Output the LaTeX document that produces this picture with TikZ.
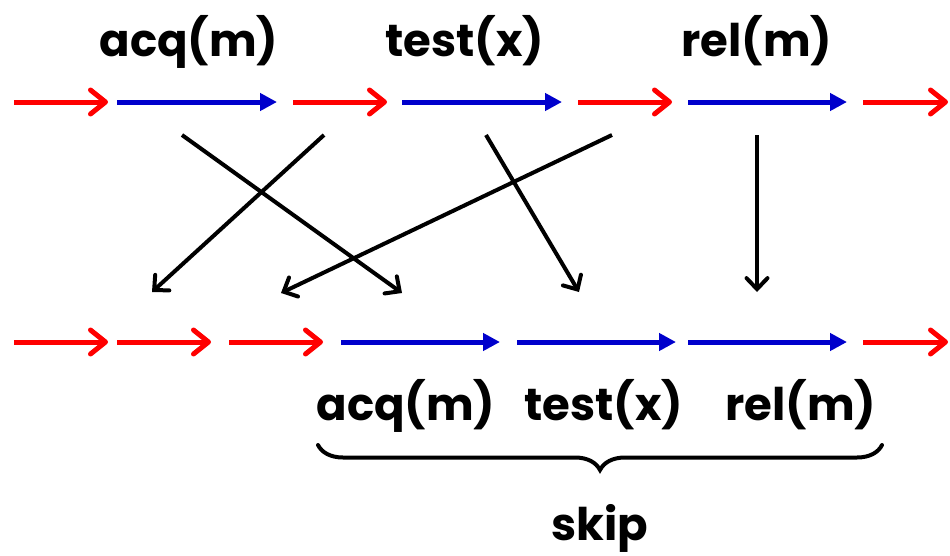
\documentclass[tikz,border=0pt]{standalone}
\usepackage{fontspec}
\setmainfont{Poppins}
\usetikzlibrary{arrows.meta,decorations.pathreplacing}
\definecolor{myred}{RGB}{255,0,0}
\definecolor{myblue}{RGB}{0,0,204}
\tikzset{
  redarr/.style={draw=myred,line width=5pt,-{Straight Barb[length=15pt,width=24pt,line width=5pt,line cap=round,line join=round]}},
  bluearr/.style={draw=myblue,line width=5pt,-{Triangle[length=17pt,width=17pt]}},
  blackarr/.style={draw=black,line width=4pt,-{Straight Barb[length=11pt,width=21pt,line width=4pt,line cap=round]}},
  lbl/.style={font=\bfseries\fontsize{45}{48}\selectfont,inner sep=0pt,anchor=base},
}
\begin{document}
\begin{tikzpicture}[x=1pt,y=-1pt]
\useasboundingbox (0,0) rectangle (950,555);
% top row
\coordinate (t1a) at (14,102); \coordinate (t1b) at (108,102);
\coordinate (t2a) at (117,102); \coordinate (t2b) at (277,102);
\coordinate (t3a) at (293,102); \coordinate (t3b) at (387,102);
\coordinate (t4a) at (402,102); \coordinate (t4b) at (562,102);
\coordinate (t5a) at (578,102); \coordinate (t5b) at (672,102);
\coordinate (t6a) at (688,102); \coordinate (t6b) at (847,102);
\coordinate (t7a) at (863,102); \coordinate (t7b) at (948,102);
\draw[redarr] (t1a) -- (t1b);
\draw[bluearr] (t2a) -- (t2b);
\draw[redarr] (t3a) -- (t3b);
\draw[bluearr] (t4a) -- (t4b);
\draw[redarr] (t5a) -- (t5b);
\draw[bluearr] (t6a) -- (t6b);
\draw[redarr] (t7a) -- (t7b);
% bottom row
\coordinate (b1a) at (14,342); \coordinate (b1b) at (108,342);
\coordinate (b2a) at (117,342); \coordinate (b2b) at (211,342);
\coordinate (b3a) at (229,342); \coordinate (b3b) at (323,342);
\coordinate (b4a) at (341,342); \coordinate (b4b) at (500,342);
\coordinate (b5a) at (517,342); \coordinate (b5b) at (676,342);
\coordinate (b6a) at (688,342); \coordinate (b6b) at (847,342);
\coordinate (b7a) at (863,342); \coordinate (b7b) at (948,342);
\draw[redarr] (b1a) -- (b1b);
\draw[redarr] (b2a) -- (b2b);
\draw[redarr] (b3a) -- (b3b);
\draw[bluearr] (b4a) -- (b4b);
\draw[bluearr] (b5a) -- (b5b);
\draw[bluearr] (b6a) -- (b6b);
\draw[redarr] (b7a) -- (b7b);
% labels
\node[lbl] (l1) at (189,56) {acq(m)};
\node[lbl] (l2) at (465,56) {test(x)};
\node[lbl] (l3) at (757,56) {rel(m)};
\node[lbl] (l4) at (406,420) {acq(m)};
\node[lbl] (l5) at (604,420) {test(x)};
\node[lbl] (l6) at (801,420) {rel(m)};
\node[lbl] (sk) at (600,540) {skip};
% crossing arrows
\coordinate (s1) at (182,135); \coordinate (e1) at (402,293);
\coordinate (s2) at (324,135); \coordinate (e2) at (152,292);
\coordinate (s3) at (486,135); \coordinate (e3) at (579,292);
\coordinate (s4) at (612,135); \coordinate (e4) at (281,293);
\coordinate (s5) at (757,135); \coordinate (e5) at (757,292);
\draw[blackarr] (s1) -- (e1);
\draw[blackarr] (s2) -- (e2);
\draw[blackarr] (s3) -- (e3);
\draw[blackarr] (s4) -- (e4);
\draw[blackarr] (s5) -- (e5);
% brace
\coordinate (brL) at (318,445); \coordinate (brR) at (882,445);
\draw[line width=4pt,line cap=round,decorate,decoration={brace,mirror,amplitude=25pt}] (brL) -- (brR);
\end{tikzpicture}
\end{document}
